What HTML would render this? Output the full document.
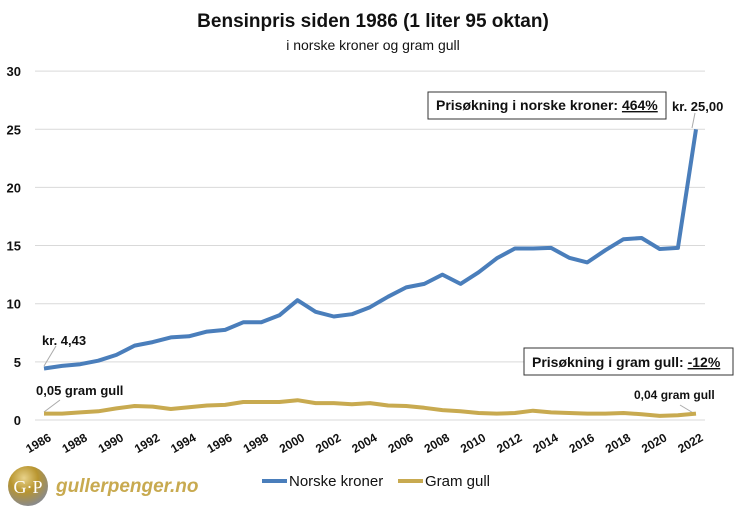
<!DOCTYPE html>
<html><head><meta charset="utf-8"><style>
body{margin:0;background:#fff;width:746px;height:507px;overflow:hidden;font-family:"Liberation Sans",sans-serif}
</style></head><body>
<svg id="s" width="746" height="507" xmlns="http://www.w3.org/2000/svg" font-family="Liberation Sans, sans-serif">
<text x="373" y="27" text-anchor="middle" font-size="19" font-weight="bold" fill="#111">Bensinpris siden 1986 (1 liter 95 oktan)</text>
<text x="373" y="50" text-anchor="middle" font-size="14" fill="#111">i norske kroner og gram gull</text>
<g id="grid" stroke="#d9d9d9" stroke-width="1"></g>
<g id="yl" font-size="13" font-weight="bold" fill="#111" text-anchor="end"></g>
<g id="xl" font-size="12" font-weight="bold" fill="#111"></g>
<line x1="44" y1="366" x2="56" y2="346" stroke="#aaa"/>
<line x1="44" y1="412" x2="60" y2="400" stroke="#aaa"/>
<line x1="692" y1="128" x2="695" y2="113" stroke="#aaa"/>
<line x1="695" y1="414" x2="680" y2="405" stroke="#aaa"/>
<polyline id="gold" fill="none" stroke="#c8aa50" stroke-width="4" stroke-linejoin="round"/>
<polyline id="nok" fill="none" stroke="#4a7ebb" stroke-width="4" stroke-linejoin="round"/>
<text x="42" y="345" font-size="13" font-weight="bold" fill="#111">kr. 4,43</text>
<text x="36" y="395" font-size="13" font-weight="bold" fill="#111">0,05  gram gull</text>
<text x="672" y="111" font-size="13" font-weight="bold" fill="#111">kr. 25,00</text>
<text x="634" y="399" font-size="12" font-weight="bold" fill="#111">0,04 gram gull</text>
<rect x="428" y="92" width="238" height="27" fill="#fff" stroke="#333"/>
<text x="436" y="110" font-size="14" font-weight="bold" fill="#111">Prisøkning i norske kroner: <tspan text-decoration="underline">464%</tspan></text>
<rect x="524" y="348" width="209" height="27" fill="#fff" stroke="#333"/>
<text x="532" y="367" font-size="14" font-weight="bold" fill="#111">Prisøkning i gram gull: <tspan text-decoration="underline">-12%</tspan></text>
<defs><radialGradient id="lg" cx="40%" cy="30%" r="70%"><stop offset="0" stop-color="#e8d28a"/><stop offset="0.5" stop-color="#b8952f"/><stop offset="1" stop-color="#8a8a8a"/></radialGradient></defs>
<circle cx="28" cy="486" r="20" fill="url(#lg)"/>
<text x="28" y="493" text-anchor="middle" font-family="Liberation Serif, serif" font-size="18" fill="#fff">G·P</text>
<text x="56" y="492" font-size="19" font-style="italic" font-weight="bold" fill="#c8aa50">gullerpenger.no</text>
<line x1="262" y1="481" x2="287" y2="481" stroke="#4a7ebb" stroke-width="4"/>
<text x="289" y="486" font-size="15" fill="#111">Norske kroner</text>
<line x1="398" y1="481" x2="423" y2="481" stroke="#c8aa50" stroke-width="4"/>
<text x="425" y="486" font-size="15" fill="#111">Gram gull</text>
</svg>
<script>
var nok=[4.43,4.65,4.8,5.1,5.6,6.4,6.7,7.1,7.2,7.6,7.75,8.4,8.4,9.0,10.3,9.3,8.9,9.1,9.7,10.6,11.4,11.7,12.5,11.7,12.7,13.9,14.75,14.75,14.8,13.95,13.55,14.6,15.55,15.65,14.7,14.8,25.0];
var gold=[0.55,0.55,0.65,0.75,1.0,1.2,1.15,0.95,1.1,1.25,1.3,1.55,1.55,1.55,1.7,1.45,1.45,1.35,1.45,1.25,1.2,1.05,0.85,0.75,0.6,0.55,0.6,0.8,0.65,0.6,0.55,0.55,0.6,0.5,0.35,0.4,0.55];
function X(i){return 44+i*18.11}function Y(v){return 420-v*11.63}
function pts(a){return a.map(function(v,i){return X(i).toFixed(1)+","+Y(v).toFixed(1)}).join(" ")}
document.getElementById("nok").setAttribute("points",pts(nok));
document.getElementById("gold").setAttribute("points",pts(gold));
var ns="http://www.w3.org/2000/svg",g=document.getElementById("grid"),yl=document.getElementById("yl"),xl=document.getElementById("xl");
for(var v=0;v<=30;v+=5){var l=document.createElementNS(ns,"line");l.setAttribute("x1",35);l.setAttribute("x2",705);l.setAttribute("y1",Y(v));l.setAttribute("y2",Y(v));g.appendChild(l);
var t=document.createElementNS(ns,"text");t.setAttribute("x",21);t.setAttribute("y",Y(v)+5);t.textContent=v;yl.appendChild(t);}
for(var yr=1986;yr<=2022;yr+=2){var i=yr-1986,t=document.createElementNS(ns,"text");var x=X(i)+8,y=440;t.setAttribute("x",x);t.setAttribute("y",y);t.setAttribute("text-anchor","end");t.setAttribute("transform","rotate(-30 "+x+" "+y+")");t.textContent=yr;xl.appendChild(t);}
</script>
</body></html>
